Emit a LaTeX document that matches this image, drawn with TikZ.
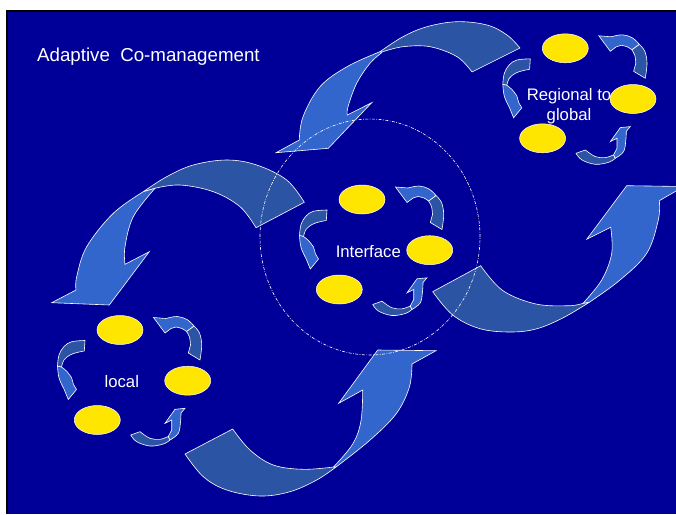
\documentclass[tikz,border=0pt]{standalone}
\usepackage{fontspec}
\setmainfont{Liberation Sans}
\usetikzlibrary{shapes.geometric}
\definecolor{bg}{RGB}{0,0,153}
\definecolor{lightarr}{RGB}{51,102,204}
\definecolor{darkarr}{RGB}{44,84,164}
\definecolor{ylw}{RGB}{255,230,0}
\tikzset{
  band/.style={fill=darkarr, draw=white, line width=0.6pt, line join=round},
  head/.style={fill=lightarr, draw=white, line width=0.6pt, line join=miter},
  egg/.style={ellipse, fill=ylw, draw=white, line width=0.5pt, minimum width=46pt, minimum height=29pt, inner sep=0pt},
  lbl/.style={text=white, inner sep=0pt, font=\fontsize{16.7}{20}\selectfont},
  ring/.style={draw=white, line width=0.6pt, dash pattern=on 3pt off 1.5pt on 0.7pt off 1.5pt},
}
\newcommand\smallcycle[1]{%
  % left small arrow
  \path[band] plot[smooth,tension=0.6] coordinates {(85,340.5) (71.7,341.7) (64,346.5) (59,355) (57.5,366)}
     -- plot[smooth,tension=0.6] coordinates {(61.5,367) (64,360) (70,355) (77,352.5) (84.3,351)} -- cycle;
  \path[head] plot[smooth,tension=0.6] coordinates {(57.5,366) (59,378) (64,389)} -- (68.3,399.5) -- (76.5,389.5)
     -- (73.5,384.5) -- plot[smooth,tension=0.6] coordinates {(71.5,377.5) (66.5,371) (61.5,367)} -- cycle;
  % top-right small arrow
  \path[band] plot[smooth,tension=0.6] coordinates {(194,326) (199.5,333) (201.7,345) (200,360)}
     -- (188.3,353) -- plot[smooth,tension=0.6] coordinates {(190.5,345) (189.5,337) (186.5,331.5)} -- cycle;
  \path[head] plot[smooth,tension=0.6] coordinates {(194,326) (187,319.5) (177,316.5) (166,318.5)} -- (153.5,317.5) -- (165,333)
     -- (171,328.5) -- plot[smooth,tension=0.6] coordinates {(176,327) (182,328.5) (186.5,331.5)} -- cycle;
  % bottom small arrow
  \path[band] plot[smooth,tension=0.6] coordinates {(130.7,435) (136.7,441.7) (150,446) (163.3,444) (170,440)}
     -- plot[smooth,tension=0.6] coordinates {(168.3,436.5) (160,439.3) (150,438.3) (140,431.7)} -- cycle;
  \path[head] plot[smooth,tension=0.6] coordinates {(170,440) (178.3,433.3) (180.5,422) (181,413)} -- (185,408.3)
     -- (175,409.3) -- (165,423.3) -- (171.7,420) -- plot[smooth,tension=0.6] coordinates {(171.7,430) (168.3,436.5)} -- cycle;
  \node[egg] (#1a) at (120,330) {};
  \node[egg] (#1b) at (187.7,380.7) {};
  \node[egg] (#1c) at (97.3,420) {};
}
\begin{document}
\begin{tikzpicture}[x=1pt,y=-1pt]
\useasboundingbox (0,0) rectangle (676,514);
\fill[white] (0,0) rectangle (676,514);
\fill[black] (6,10) rectangle (676,514);
\fill[bg] (7.5,11.5) rectangle (676,514);
\begin{scope}
\clip (7.5,11.5) rectangle (676,514);
% top big arrow
\path[band] plot[smooth,tension=0.6] coordinates {(520,48) (507,35) (487,25) (457,21.7) (427,26.7) (403,36.7) (380,51.7)}
   -- plot[smooth,tension=0.6] coordinates {(382,52) (403,46.7) (430,46.7) (457,56.7) (472,72)} -- cycle;
\path[head] plot[smooth,tension=0.6] coordinates {(380,51.7) (347,66.7) (320,86.7) (303,116.7) (299.3,140)}
   -- (276,152.7) -- (328.3,148.3) -- (371.7,102.7)
   -- plot[smooth,tension=0.6] coordinates {(347.3,115) (348,106.7) (356.7,83.3) (370,63.3) (381.7,52.7)} -- cycle;
% left big arrow
\path[band] plot[smooth,tension=0.6] coordinates {(304.3,202.3) (286.7,180) (256.7,165) (226.7,160) (193.3,165) (166.7,176.7) (143.3,191.7)}
   -- plot[smooth,tension=0.6] coordinates {(155,188.3) (180,185) (213.3,191.7) (240,206.7) (256,227.7)} -- cycle;
\path[head] plot[smooth,tension=0.6] coordinates {(143.3,191.7) (113.3,213.3) (86.7,246.7) (76.7,276.7) (76,290)}
   -- (51.7,302.7) -- (109.3,305) -- (149.3,251.7)
   -- plot[smooth,tension=0.6] coordinates {(125,264.3) (125,246.7) (133.3,216.7) (155,188.3)} -- cycle;
% bottom big arrow
\path[band] plot[smooth,tension=0.6] coordinates {(185,454) (203.3,476.7) (226.7,490) (260,496) (290,491.7) (316.7,480) (336,467)}
   -- plot[smooth,tension=0.6] coordinates {(333.5,467) (303.3,469.3) (273.3,465) (250,450) (232.7,429)} -- cycle;
\path[head] plot[smooth,tension=0.6] coordinates {(336,467) (369.3,440.7) (396,414) (409.3,387.3) (412,364)}
   -- (436,350.7) -- (377.7,350) -- (338.7,403.3)
   -- plot[smooth,tension=0.6] coordinates {(362.7,390) (361,420.7) (352.7,444) (333.5,467)} -- cycle;
% right big arrow
\path[band] plot[smooth,tension=0.6] coordinates {(432.7,291.7) (452.7,315) (479.3,328.5) (509.3,332) (536,329) (562.7,318) (589.3,302.3)}
   -- plot[smooth,tension=0.6] coordinates {(583,303.3) (569.3,305.7) (536,304) (502.7,290.5) (480.7,265.7)} -- cycle;
\path[head] plot[smooth,tension=0.6] coordinates {(589.3,302.3) (620,280) (646.7,253.3) (658.3,220) (659.3,200.7)}
   -- (684,186.5) -- (626.7,185.7) -- (586.7,239.3)
   -- plot[smooth,tension=0.6] coordinates {(610.7,227.3) (611.7,253.3) (601.7,280) (583,303.3)} -- cycle;
% dotted interface ring
\draw[ring] (370,237) ellipse (110pt and 118pt);
\end{scope}
% clusters
\smallcycle{lo}
\begin{scope}[shift={(242,-130.5)}]\smallcycle{in}\end{scope}
\begin{scope}[shift={(445.3,-281.7)}]\smallcycle{re}\end{scope}
% labels
\node[lbl, anchor=base] (loc) at (121.8,387.3) {local};
\node[lbl, anchor=base] (itf) at (368.3,257.3) {Interface};
\node[lbl, anchor=base, align=center] (reg) at (569,120) {Regional to\\global};
\node[text=white, anchor=base west, inner sep=0pt, font=\fontsize{18.7}{22}\selectfont] (title) at (37,61.7) {Adaptive\ \ Co-management};
\end{tikzpicture}
\end{document}
